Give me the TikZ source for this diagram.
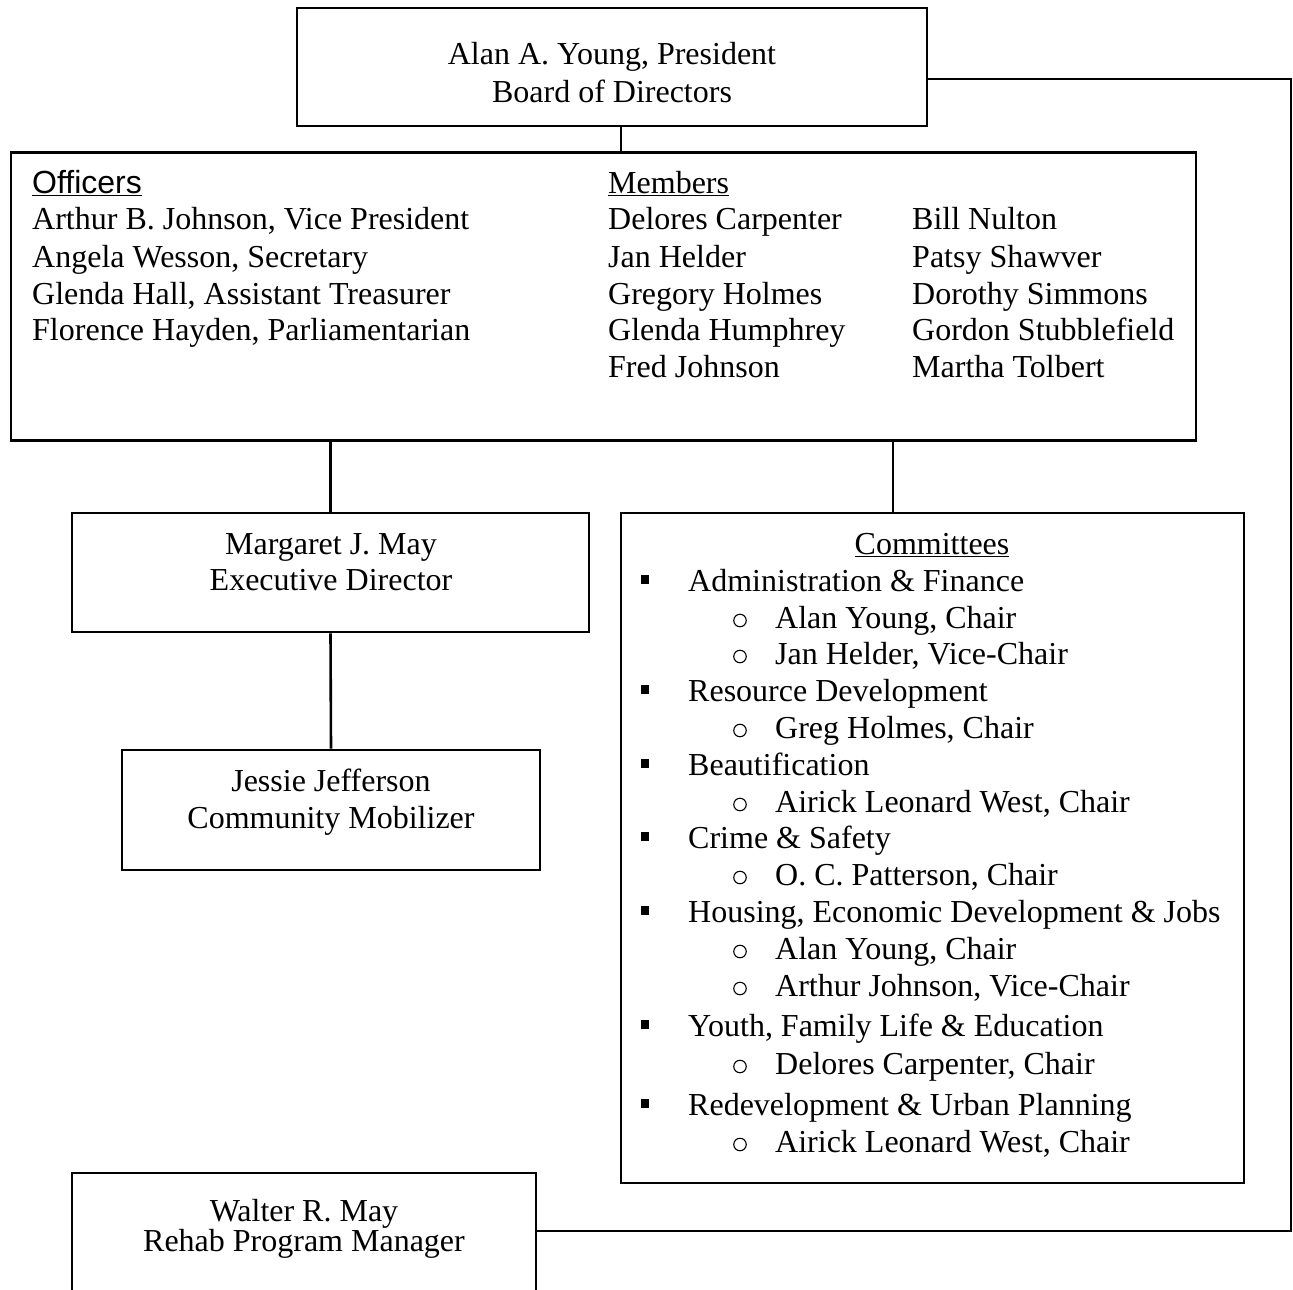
\documentclass[tikz,border=0pt]{standalone}
\usepackage{fontspec}
\setmainfont{Liberation Serif}
\newfontfamily\sansf{Liberation Sans}
\begin{document}
\begin{tikzpicture}[x=1pt,y=-1pt,
  box/.style={draw=black,line width=2.6pt,rectangle,inner sep=0pt},
  txt/.style={anchor=base,inner sep=0pt,font=\fontsize{32}{37}\selectfont},
  ltxt/.style={anchor=base west,inner sep=0pt,font=\fontsize{32}{37}\selectfont},
  obul/.style={circle,draw=black,line width=1.1pt,minimum size=12.5pt,inner sep=0pt},
  conn/.style={line width=2.6pt}]
\useasboundingbox (0,0) rectangle (1293,1290);
% boxes
\node[box,minimum width=630pt,minimum height=118pt] (top) at (612,67) {};
\node[box,minimum width=1185pt,minimum height=288pt] (board) at (603.5,296.5) {};
\node[box,minimum width=517pt,minimum height=119pt] (ed) at (330.5,572.5) {};
\node[box,minimum width=418pt,minimum height=120pt] (cm) at (331,810) {};
\node[box,minimum width=623pt,minimum height=670pt] (com) at (932.5,848) {};
\node[box,minimum width=464pt,minimum height=160pt] (wal) at (304,1253) {};
% top text
\node[txt] (t1) at (612,65) {Alan A. Young, President};
\node[txt] (t2) at (612,102) {Board of Directors};
% board text
\node[ltxt] (o0) at (32,193) {\sansf\underline{Officers}};
\node[ltxt] (o1) at (32,229) {Arthur B. Johnson, Vice President};
\node[ltxt] (o2) at (32,267) {Angela Wesson, Secretary};
\node[ltxt] (o3) at (32,304) {Glenda Hall, Assistant Treasurer};
\node[ltxt] (o4) at (32,340) {Florence Hayden, Parliamentarian};
\node[ltxt] (m0) at (608,193) {\underline{Members}};
\node[ltxt] (m1) at (608,229) {Delores Carpenter};
\node[ltxt] (m2) at (608,267) {Jan Helder};
\node[ltxt] (m3) at (608,304) {Gregory Holmes};
\node[ltxt] (m4) at (608,340) {Glenda Humphrey};
\node[ltxt] (m5) at (608,377) {Fred Johnson};
\node[ltxt] (n1) at (912,229) {Bill Nulton};
\node[ltxt] (n2) at (912,267) {Patsy Shawver};
\node[ltxt] (n3) at (912,304) {Dorothy Simmons};
\node[ltxt] (n4) at (912,340) {Gordon Stubblefield};
\node[ltxt] (n5) at (912,377) {Martha Tolbert};
% executive director
\node[txt] (e1) at (331,554) {Margaret J. May};
\node[txt] (e2) at (331,590) {Executive Director};
% community mobilizer
\node[txt] (j1) at (331,791) {Jessie Jefferson};
\node[txt] (j2) at (331,828) {Community Mobilizer};
% walter
\node[txt] (w1) at (304,1221) {Walter R. May};
\node[txt] (w2) at (304,1251) {Rehab Program Manager};
% committees
\node[txt] (c0) at (932,554) {\underline{Committees}};
\newcommand{\sqb}[2]{%
  \node[ltxt] at (641,#1) {\raisebox{7pt}{\rule{8pt}{9pt}}};
  \node[ltxt] (#2) at (688,#1)}
\newcommand{\ob}[2]{%
  \node[obul] at (740,#1-7.5) {};
  \node[ltxt] (#2) at (775,#1)}
\sqb{591}{a1} {Administration \& Finance};
\ob{628}{a2} {Alan Young, Chair};
\ob{664}{a3} {Jan Helder, Vice-Chair};
\sqb{701}{b1} {Resource Development};
\ob{738}{b2} {Greg Holmes, Chair};
\sqb{775}{c1} {Beautification};
\ob{812}{c2} {Airick Leonard West, Chair};
\sqb{848}{d1} {Crime \& Safety};
\ob{885}{d2} {O. C. Patterson, Chair};
\sqb{922}{h1} {Housing, Economic Development \& Jobs};
\ob{959}{h2} {Alan Young, Chair};
\ob{996}{h3} {Arthur Johnson, Vice-Chair};
\sqb{1036}{y1} {Youth, Family Life \& Education};
\ob{1074}{y2} {Delores Carpenter, Chair};
\sqb{1115}{r1} {Redevelopment \& Urban Planning};
\ob{1152}{r2} {Airick Leonard West, Chair};
% connectors
\draw[conn] (top.south -| 621,0) -- (board.north -| 621,0);
\draw[conn] (board.south -| ed.north) -- (ed.north);
\draw[conn] (board.south -| 893,0) -- (com.north -| 893,0);
\draw[conn] (ed.south) -- (cm.north);
\coordinate (k1) at (1291,79);
\coordinate (k2) at (1291,1231);
\draw[conn] (top.east |- k1) -- (k1) -- (k2) -- (wal.east |- k2);
\end{tikzpicture}
\end{document}
